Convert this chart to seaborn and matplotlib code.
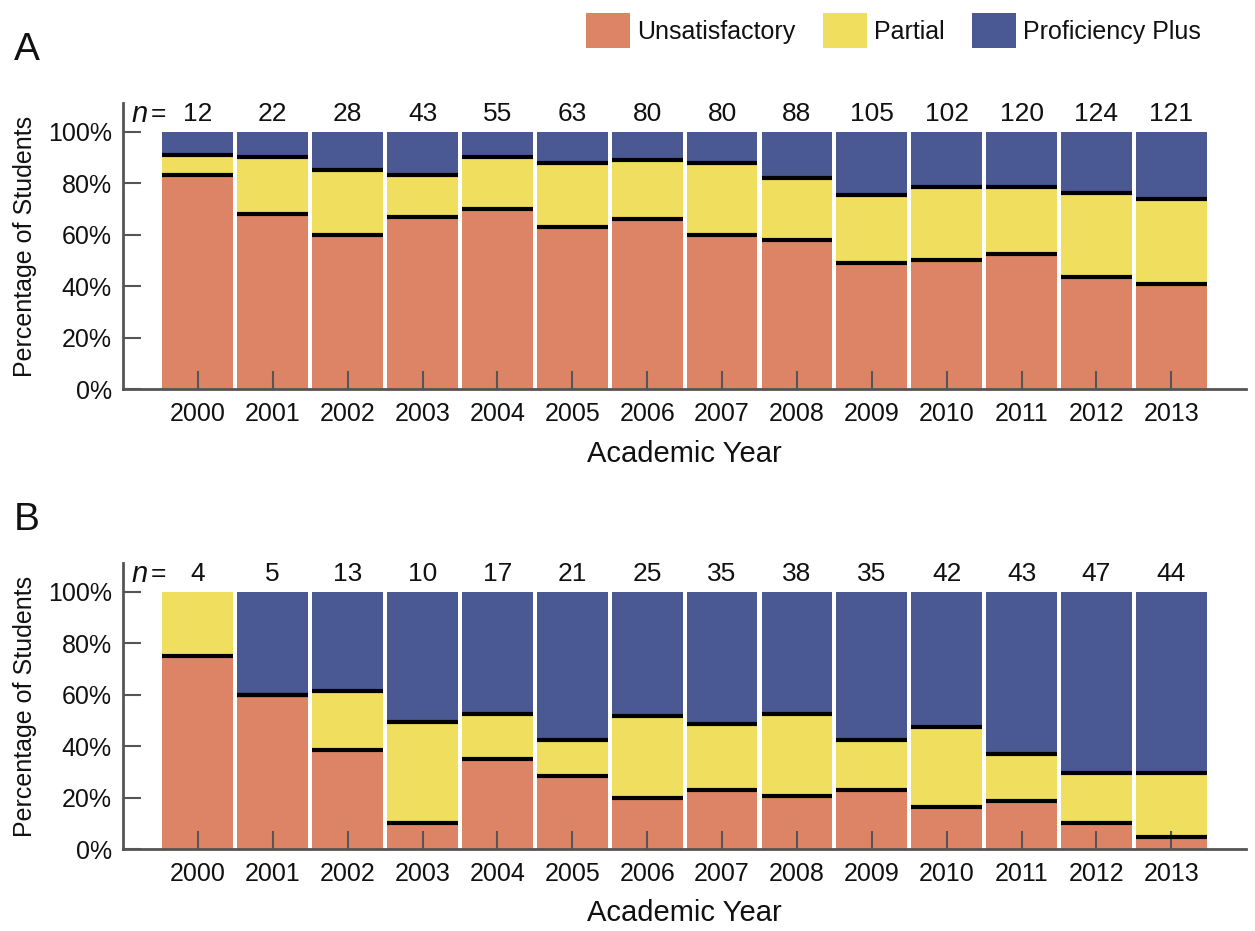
import numpy as np
import pandas as pd
import matplotlib
matplotlib.use("Agg")
import matplotlib.pyplot as plt
from matplotlib.patches import Patch
import seaborn as sns

years = [str(y) for y in range(2000, 2014)]
categories = ["Unsatisfactory", "Partial", "Proficiency Plus"]

n_a = [12, 22, 28, 43, 55, 63, 80, 80, 88, 105, 102, 120, 124, 121]
unsat_a = [83, 68, 60, 67, 70, 63, 66, 60, 58, 49, 50, 52.5, 43.5, 41]
partial_a = [8, 22, 25, 16, 20, 25, 23, 28, 24, 26.5, 28.5, 26, 32.5, 33]
prof_a = [9, 10, 15, 17, 10, 12, 11, 12, 18, 24.5, 21.5, 21.5, 24, 26]

n_b = [4, 5, 13, 10, 17, 21, 25, 35, 38, 35, 42, 43, 47, 44]
unsat_b = [75, 60, 38.5, 10, 35, 28.5, 20, 23, 20.5, 23, 16.5, 18.5, 10, 4.5]
partial_b = [25, 0, 23, 39.5, 17.5, 14, 31.5, 25.5, 32, 19.5, 31, 18.5, 19.5, 25]
prof_b = [0, 40, 38.5, 50.5, 47.5, 57.5, 48.5, 51.5, 47.5, 57.5, 52.5, 63, 70.5, 70.5]

colors = ["#DE8466", "#F0DF5E", "#4A5893"]
spine_c = "#555555"

sns.set_style("ticks")
plt.rcParams["font.family"] = ["Liberation Sans", "DejaVu Sans"]
plt.rcParams["text.color"] = "#111111"
plt.rcParams["axes.labelcolor"] = "#111111"

fig = plt.figure(figsize=(12.55, 9.31), dpi=100)

W = 0.945


def panel(ax, n, unsat, partial, prof, letter, letter_y):
    df = pd.DataFrame({"year": years, "u": unsat, "p": partial, "f": prof})
    df["c1"] = df["u"]
    df["c2"] = df["u"] + df["p"]
    df["c3"] = df["u"] + df["p"] + df["f"]
    for col, c in zip(["c3", "c2", "c1"], colors[::-1]):
        sns.barplot(data=df, x="year", y=col, color=c, width=W, ax=ax,
                    saturation=1, linewidth=0, errorbar=None)
    xs = np.arange(len(years))
    for col in ["c1", "c2"]:
        vals = df[col].values
        mask = vals < 99.9
        ax.hlines(vals[mask], xs[mask] - W / 2, xs[mask] + W / 2,
                  color="black", lw=3, zorder=3)
    ax.set_xlim(-1.0, 14.0)
    ax.set_ylim(0, 111)
    ax.set_yticks([0, 20, 40, 60, 80, 100])
    ax.set_yticklabels([f"{v}%" for v in [0, 20, 40, 60, 80, 100]])
    ax.set_axisbelow(False)
    ax.tick_params(direction="in", length=13, width=1.5, color=spine_c,
                   labelsize=18, pad=8, labelcolor="#111111")
    ax.tick_params(axis="x", pad=9)
    for s in ["top", "right"]:
        ax.spines[s].set_visible(False)
    for s in ["left", "bottom"]:
        ax.spines[s].set_color(spine_c)
        ax.spines[s].set_linewidth(2)
    ax.set_xlabel("Academic Year", fontsize=21, labelpad=10)
    ax.set_ylabel("Percentage of Students", fontsize=18, labelpad=8)
    for i, v in enumerate(n):
        ax.text(i, 107, str(v), ha="center", va="center", fontsize=19)
    ax.text(-0.775, 107, "n", ha="center", va="center", fontsize=21,
            style="italic")
    ax.text(-0.53, 107, "=", ha="center", va="center", fontsize=19)
    ax.text(-0.086, letter_y, letter, transform=ax.transAxes, fontsize=28,
            ha="center", va="center")


axA = fig.add_axes([0.098, 0.582, 0.895, 0.307])
panel(axA, n_a, unsat_a, partial_a, prof_a, "A", 1.185)
axB = fig.add_axes([0.098, 0.088, 0.895, 0.307])
panel(axB, n_b, unsat_b, partial_b, prof_b, "B", 1.15)

handles = [Patch(facecolor=c, edgecolor="none") for c in colors]
fig.legend(handles, categories, loc="center", bbox_to_anchor=(0.712, 0.967),
           ncol=3, frameon=False, fontsize=18, handlelength=1.75,
           handleheight=1.75, handletextpad=0.3, columnspacing=1.1)

fig.savefig("out.png", dpi=100)
